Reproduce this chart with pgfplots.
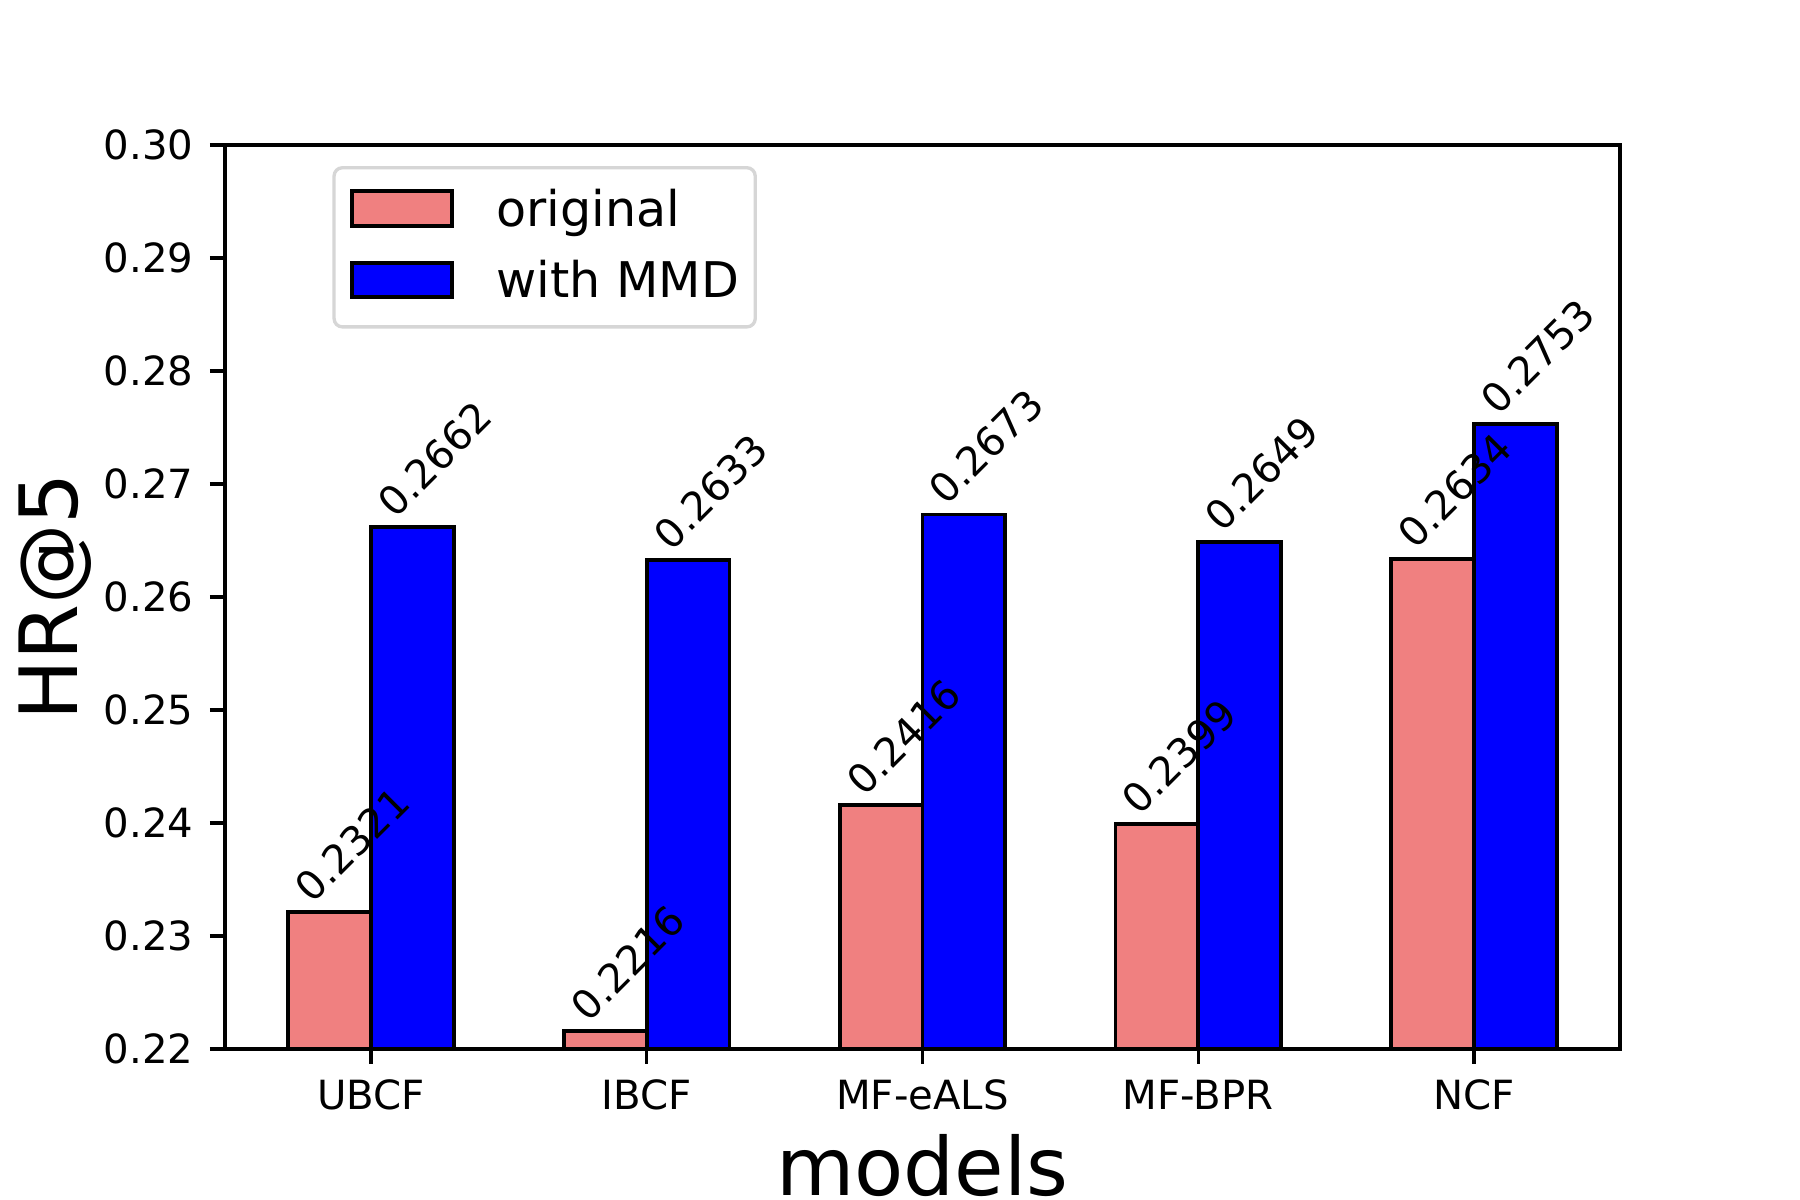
\documentclass[border=0pt]{standalone}
\usepackage{pgfplots}
\pgfplotsset{compat=1.18}
\usepackage{fontspec}
\setmainfont{DejaVu Sans}
\definecolor{lightcoral}{RGB}{240,128,128}
\definecolor{legedge}{RGB}{214,214,214}
\newcommand{\tickfont}{\fontsize{9.65}{11.6}\selectfont}
\newcommand{\legfont}{\fontsize{11.8}{14}\selectfont}
\newcommand{\labfont}{\fontsize{19.3}{23}\selectfont}
\pgfplotsset{mylegend/.style={legend image code/.code={%
  \draw[##1, line width=0.95pt, sharp corners] (0pt,0.1pt) rectangle (23.95pt,8.4pt);
  \path (34.1pt,0pt);}}}
\begin{document}
\begin{tikzpicture}
\begin{axis}[
  name=ax,
  scale only axis, width=334.8pt, height=216.96pt,
  xmin=-0.53, xmax=4.53, ymin=0.22, ymax=0.30,
  xtick={0,1,2,3,4}, xticklabels={UBCF,IBCF,MF-eALS,MF-BPR,NCF},
  ytick={0.22,0.23,0.24,0.25,0.26,0.27,0.28,0.29,0.30},
  tick align=outside, tick pos=left, major tick length=3.6pt,
  every tick/.style={black, line width=0.8pt},
  axis line style={line width=0.8pt},
  /pgf/number format/assume math mode=true,
  yticklabel style={/pgf/number format/.cd, fixed, fixed zerofill, precision=2, /tikz/.cd, font=\tickfont, anchor=east, inner sep=0pt, xshift=-3.8pt},
  xticklabel style={font=\tickfont, anchor=base, inner sep=0pt, yshift=-11pt},
  every axis x label/.style={at={(rel axis cs:0.5,-0.1626)}, anchor=base, font=\labfont},
  every axis y label/.style={at={(rel axis cs:-0.1054,0.5)}, rotate=90, anchor=base, font=\labfont},
  xlabel={models}, ylabel={HR@5},
  nodes near coords={\pgfmathprintnumber[fixed,fixed zerofill,precision=4]{\pgfplotspointmeta}},
  legend style={at={(rel axis cs:0.077,0.9767)}, anchor=north west, draw=legedge, line width=0.8pt, rounded corners=2pt, fill=white, font=\legfont, inner xsep=3.9pt, inner ysep=5pt, row sep=6.2pt, cells={anchor=base west}, nodes={inner sep=0pt, text height=9pt, text depth=2pt}},
]
\addplot[ybar, bar width=0.3, bar shift=-0.15, fill=lightcoral, draw=black, line width=0.95pt, mylegend,
  every node near coord/.style={font=\tickfont, anchor=base west, inner sep=0pt, xshift=-14.37pt, yshift=1.5pt, rotate=45}]
  coordinates {(0,0.2321) (1,0.2216) (2,0.2416) (3,0.2399) (4,0.2634)};
\addlegendentry{original}
\addplot[ybar, bar width=0.3, bar shift=0.15, fill=blue, draw=black, line width=0.95pt, mylegend,
  every node near coord/.style={font=\tickfont, anchor=base west, inner sep=0pt, xshift=5.47pt, yshift=1.5pt, rotate=45}]
  coordinates {(0,0.2662) (1,0.2633) (2,0.2673) (3,0.2649) (4,0.2753)};
\addlegendentry{with MMD}
\end{axis}
\pgfresetboundingbox
\path ([shift={(-54pt,-36.24pt)}]ax.south west) rectangle ([shift={(43.2pt,34.8pt)}]ax.north east);
\end{tikzpicture}
\end{document}
